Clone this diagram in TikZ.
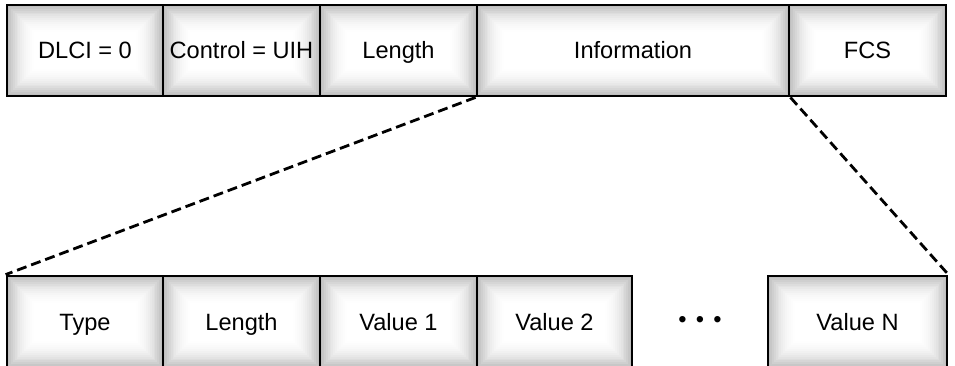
\documentclass[tikz,border=0pt]{standalone}
\usepackage{fontspec}
\setmainfont{Liberation Sans}
\tikzset{
  fieldbox/.style={draw=black, line width=2.8pt, inner sep=0pt,
    text height=16.9pt, text depth=0pt,
    font=\fontsize{23.6}{28}\selectfont,
    path picture={
      \foreach \i in {0,...,15}{
        \pgfmathsetmacro\pct{100-25*(1-\i/15)^2}
        \fill[white!\pct!black]
          ([shift={(\i*1.9pt,-\i*1.9pt)}]path picture bounding box.north west)
          rectangle
          ([shift={(-\i*1.9pt,\i*1.9pt)}]path picture bounding box.south east);
      }
    }},
  toprow/.style={fieldbox, minimum height=91pt},
  botrow/.style={fieldbox, minimum height=92pt},
  zoomline/.style={line width=2.8pt, dash pattern=on 10pt off 5pt},
  dotsnode/.style={inner sep=0pt, font=\fontsize{23.6}{28}\selectfont}
}
\begin{document}
\begin{tikzpicture}[x=1pt,y=-1pt]
\useasboundingbox (0,0) rectangle (955,366);
\clip (0,0) rectangle (955,366);
% top frame
\node[toprow, minimum width=156pt] (dlci) at (85,50.5) {DLCI = 0};
\node[toprow, minimum width=157pt] (ctrl) at (241.5,50.5) {Control = UIH};
\node[toprow, minimum width=157pt] (len) at (398.5,50.5) {Length};
\node[toprow, minimum width=312pt] (info) at (633,50.5) {Information};
\node[toprow, minimum width=157pt] (fcs) at (867.5,50.5) {FCS};
% bottom row
\node[botrow, minimum width=156pt] (type) at (85,322) {Type};
\node[botrow, minimum width=157pt] (blen) at (241.5,322) {Length};
\node[botrow, minimum width=157pt] (val1) at (398.5,322) {Value 1};
\node[botrow, minimum width=155pt] (val2) at (554.5,322) {Value 2};
\node[dotsnode] (dots) at (700,322) {• \kern2.7pt• \kern2.7pt•};
\node[botrow, minimum width=179pt] (valn) at (857.5,322) {Value N};
% zoom lines
\draw[zoomline] (info.south west) -- (type.north west);
\draw[zoomline] (info.south east) -- (valn.north east);
\end{tikzpicture}
\end{document}
